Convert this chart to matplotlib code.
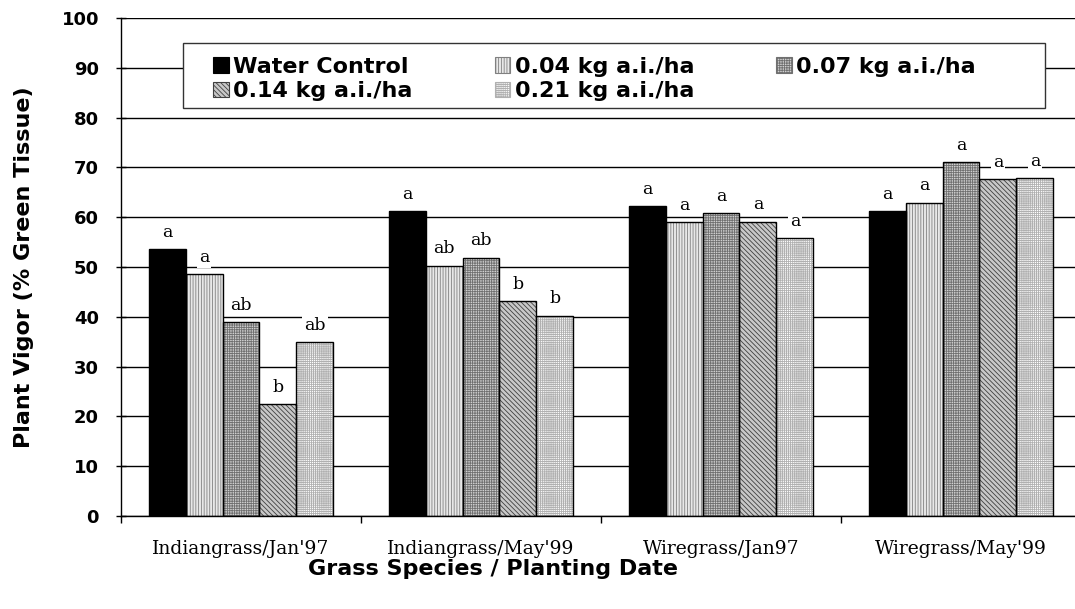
import matplotlib
matplotlib.use("Agg")
import matplotlib.pyplot as plt
from matplotlib.patches import Patch, Rectangle
import numpy as np

groups = ["Indiangrass/Jan'97", "Indiangrass/May'99", "Wiregrass/Jan97", "Wiregrass/May'99"]
series = ["Water Control", "0.04 kg a.i./ha", "0.07 kg a.i./ha", "0.14 kg a.i./ha", "0.21 kg a.i./ha"]
water_control = [53.6, 61.2, 62.2, 61.2]
kg_004 = [48.5, 50.3, 59.0, 62.9]
kg_007 = [38.9, 51.9, 60.8, 71.0]
kg_014 = [22.4, 43.2, 59.1, 67.6]
kg_021 = [34.9, 40.2, 55.8, 67.9]
letters_wc = ["a", "a", "a", "a"]
letters_004 = ["a", "ab", "a", "a"]
letters_007 = ["ab", "ab", "a", "a"]
letters_014 = ["b", "b", "a", "a"]
letters_021 = ["ab", "b", "a", "a"]
y_ticks = [0, 10, 20, 30, 40, 50, 60, 70, 80, 90, 100]

values = [water_control, kg_004, kg_007, kg_014, kg_021]
letters = [letters_wc, letters_004, letters_007, letters_014, letters_021]

styles = [
    dict(face="black", hatch=None, hcol="black"),
    dict(face="#e8e8e8", hatch="||||||", hcol="#808080"),
    dict(face="#d0d0d0", hatch="+++++++", hcol="#707070"),
    dict(face="#c8c8c8", hatch="\\\\\\\\\\\\\\", hcol="#404040"),
    dict(face="white", hatch="++++++++", hcol="#b0b0b0"),
]

plt.rcParams['hatch.linewidth'] = 0.6

fig = plt.figure(figsize=(10.75, 6.09), dpi=100)
ax = fig.add_axes([121/1075, 93/609, 960/1075, 498/609])

x = np.arange(len(groups))
w = 0.154
handles = []
for i, (vals, st) in enumerate(zip(values, styles)):
    pos = x + (i - 2) * w
    ax.bar(pos, vals, w, color=st["face"], edgecolor=st["hcol"], hatch=st["hatch"],
           linewidth=0, zorder=2)
    ax.bar(pos, vals, w, fill=False, edgecolor="black", linewidth=1.0, zorder=2.5)
    for px, v, lab in zip(pos, vals, letters[i]):
        ax.annotate(lab, (px, v), xytext=(0, 6), textcoords="offset points",
                    ha="center", va="bottom", fontsize=12.5, family="DejaVu Serif",
                    zorder=3, bbox=dict(facecolor="white", edgecolor="none", pad=1.5))
    handles.append(Patch(facecolor=st["face"], edgecolor=st["hcol"] if st["hatch"] else "black",
                         hatch=st["hatch"], linewidth=0.8, label=series[i]))

ax.set_xlim(-0.5, 3.5)
ax.set_ylim(0, 100)
ax.set_yticks(y_ticks)
ax.set_yticklabels([str(t) for t in y_ticks], fontsize=13, fontweight="bold", family="DejaVu Sans")
ax.tick_params(axis="y", direction="inout", length=7.2, width=1, pad=12.2)
ax.set_xticks(x)
ax.set_xticklabels(groups, fontsize=13.5, family="DejaVu Serif")
ax.set_xticks(np.arange(-0.5, 3.6, 1.0), minor=True)
ax.tick_params(axis="x", which="major", length=0, pad=17)
ax.tick_params(axis="x", which="minor", direction="out", length=5, width=1)
ax.grid(axis="y", color="black", linewidth=1.0)
ax.set_axisbelow(True)
for s in ["top", "right"]:
    ax.spines[s].set_visible(False)
for s in ["left", "bottom"]:
    ax.spines[s].set_linewidth(1.0)

ax.set_ylabel("Plant Vigor (% Green Tissue)", fontsize=16, fontweight="bold", family="DejaVu Sans")
ax.yaxis.set_label_coords((34 - 121) / 960, 0.5)
ax.set_xlabel("Grass Species / Planting Date", fontsize=16, fontweight="bold", family="DejaVu Sans")
ax.xaxis.set_label_coords((493 - 121) / 960, (516 - 569) / 498)
ax.xaxis.label.set_va("center")

ax.add_patch(Rectangle(((183 - 121) / 960, (516 - 108) / 498), (1045 - 183) / 960, 65 / 498,
                       transform=ax.transAxes, facecolor="white", edgecolor="#333333",
                       linewidth=1.0, zorder=4, clip_on=False))
order = [0, 3, 1, 4, 2]
leg = ax.legend([handles[k] for k in order], [series[k] for k in order], ncol=3,
                loc="upper left", bbox_to_anchor=((213 - 121) / 960, (516 - 57) / 498),
                frameon=False, borderpad=0, borderaxespad=0,
                prop=dict(family="DejaVu Sans", weight="bold", size=16),
                handlelength=0.7, handleheight=0.7, handletextpad=0.2,
                columnspacing=3.7, labelspacing=0.2)
leg.set_zorder(5)

fig.savefig("out.png", dpi=100)
